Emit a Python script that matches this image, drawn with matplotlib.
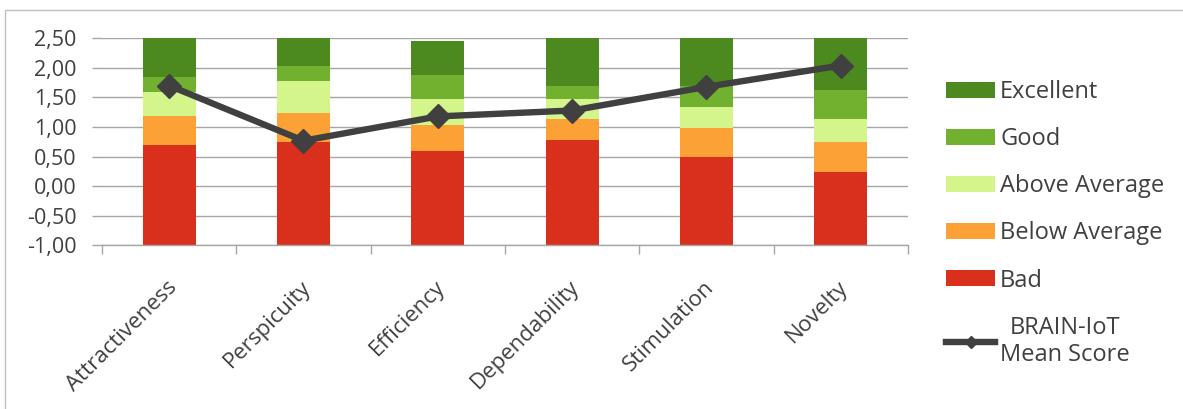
#!/usr/bin/env python3
import matplotlib

matplotlib.use("Agg")
import matplotlib.pyplot as plt
import matplotlib.transforms as mtransforms
from matplotlib.lines import Line2D
from matplotlib.patches import Patch, Rectangle
from matplotlib.ticker import FuncFormatter, MultipleLocator

categories = [
    "Attractiveness",
    "Perspicuity",
    "Efficiency",
    "Dependability",
    "Stimulation",
    "Novelty",
]

# upper bound of each benchmark band (bars start at -1)
bad_top = [0.69, 0.74, 0.60, 0.78, 0.50, 0.24]
below_avg_top = [1.18, 1.24, 1.03, 1.14, 0.99, 0.74]
above_avg_top = [1.59, 1.77, 1.48, 1.48, 1.34, 1.13]
good_top = [1.85, 2.04, 1.88, 1.70, 1.70, 1.62]
excellent_top = [2.50, 2.50, 2.46, 2.50, 2.50, 2.50]

mean_score = [1.70, 0.77, 1.18, 1.28, 1.68, 2.04]

band_names = ["Bad", "Below Average", "Above Average", "Good", "Excellent"]
band_colors = ["#D9301E", "#FBA135", "#D3F58B", "#72B12F", "#4C8A1F"]

TEXT = "#404040"
GRID = "#A6A6A6"


def main():
    plt.rcParams["font.family"] = ["Open Sans", "DejaVu Sans"]
    fig = plt.figure(figsize=(11.83, 4.09), dpi=100)
    ax = fig.add_axes([0.0862, 0.3998, 0.6813, 0.5066])

    xs = list(range(len(categories)))
    bands = [bad_top, below_avg_top, above_avg_top, good_top, excellent_top]
    lower = [-1.0] * len(categories)
    for name, tops, color in zip(band_names, bands, band_colors):
        heights = [t - b for t, b in zip(tops, lower)]
        ax.bar(xs, heights, bottom=lower, width=0.395, color=color,
               label=name, zorder=2)
        lower = tops

    ax.plot(xs, mean_score, color=TEXT, linewidth=4.6, marker="D",
            markersize=12, zorder=3, solid_capstyle="round")

    ax.set_xlim(-0.5, len(categories) - 0.5)
    ax.set_ylim(-1.0, 2.5)
    ax.yaxis.set_major_locator(MultipleLocator(0.5))
    ax.yaxis.set_major_formatter(
        FuncFormatter(lambda v, _: f"{v:.2f}".replace(".", ","))
    )
    ax.grid(axis="y", color=GRID, linewidth=1.0, zorder=0)
    ax.set_axisbelow(True)
    for side in ["left", "right", "top"]:
        ax.spines[side].set_visible(False)
    ax.spines["bottom"].set_color(GRID)
    ax.spines["bottom"].set_linewidth(1.0)

    ax.tick_params(axis="y", length=7.2, width=1.0, color=GRID, pad=11,
                   labelsize=15.5, labelcolor=TEXT)
    ax.set_xticks(xs)
    ax.set_xticks([x - 0.5 for x in xs] + [len(xs) - 0.5], minor=True)
    ax.tick_params(axis="x", which="major", length=0, pad=0)
    ax.tick_params(axis="x", which="minor", length=6.5, width=1.0,
                   color=GRID)
    ax.set_xticklabels(categories, rotation=45, ha="right", va="top",
                       rotation_mode="anchor", fontsize=16, color=TEXT)
    offset = mtransforms.ScaledTranslation(-3 / 100, -31 / 100,
                                           fig.dpi_scale_trans)
    for lbl in ax.get_xticklabels():
        lbl.set_transform(lbl.get_transform() + offset)

    handles = [Patch(facecolor=c, edgecolor="none")
               for c in reversed(band_colors)]
    labels = list(reversed(band_names))
    handles.append(Line2D([], [], color=TEXT, linewidth=4.6, marker="D",
                          markersize=6))
    labels.append("BRAIN-IoT\nMean Score")
    leg = fig.legend(handles, labels, loc="upper left",
                     bbox_to_anchor=(946 / 1183, 1 - 80 / 409),
                     frameon=False, fontsize=17, handlelength=2.08,
                     handleheight=0.68, handletextpad=0.21, labelspacing=0.98,
                     borderaxespad=0, borderpad=0)
    for t in leg.get_texts():
        t.set_color(TEXT)
    leg.get_texts()[-1].set_multialignment("center")

    fig.add_artist(Rectangle((5 / 1183, -0.1), 1.2, (409 - 10) / 409 + 0.1,
                             transform=fig.transFigure, fill=False,
                             edgecolor="#BFBFBF", linewidth=1.0))

    fig.savefig("out.png", dpi=100)


if __name__ == "__main__":
    main()
